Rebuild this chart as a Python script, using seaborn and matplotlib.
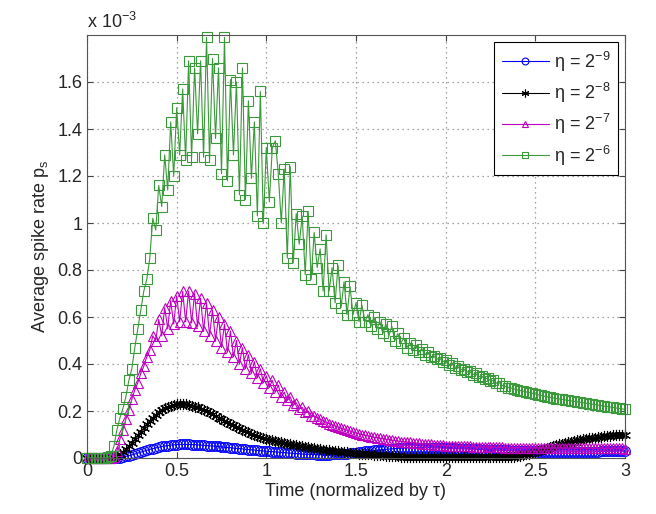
import numpy as np
import matplotlib
matplotlib.use("Agg")
import matplotlib.pyplot as plt
import seaborn as sns

sns.set_theme(style="ticks")
plt.rcParams['font.family'] = ['Liberation Sans', 'DejaVu Sans']
plt.rcParams['mathtext.fontset'] = 'custom'
plt.rcParams['mathtext.rm'] = 'Liberation Sans'
plt.rcParams['mathtext.it'] = 'Liberation Sans:italic'

# time axis, normalized by tau (181 samples from 0 to 3)
time = np.linspace(0, 3, 181)

# average spike rate, in units of 1e-3
rate_eta9 = [
    0, 0, 0, 0, 0, 0, 0, 0, 0, 0,
    0.001, 0.002, 0.004, 0.007, 0.010, 0.013, 0.017, 0.021, 0.025, 0.029,
    0.033, 0.037, 0.040, 0.043, 0.046, 0.049, 0.051, 0.053, 0.055, 0.056,
    0.057, 0.058, 0.058, 0.058, 0.058, 0.057, 0.057, 0.056, 0.055, 0.054,
    0.053, 0.052, 0.051, 0.050, 0.049, 0.047, 0.046, 0.045, 0.044, 0.042,
    0.041, 0.040, 0.039, 0.037, 0.036, 0.035, 0.034, 0.032, 0.031, 0.030,
    0.029, 0.028, 0.027, 0.026, 0.025, 0.024, 0.023, 0.022, 0.021, 0.020,
    0.019, 0.018, 0.017, 0.016, 0.016, 0.015, 0.015, 0.014, 0.014, 0.014,
    0.014, 0.014, 0.015, 0.015, 0.016, 0.017, 0.018, 0.019, 0.020, 0.022,
    0.023, 0.025, 0.026, 0.028, 0.029, 0.031, 0.032, 0.034, 0.035, 0.036,
    0.037, 0.038, 0.039, 0.040, 0.041, 0.042, 0.042, 0.043, 0.043, 0.044,
    0.044, 0.044, 0.044, 0.044, 0.044, 0.044, 0.043, 0.043, 0.043, 0.043,
    0.042, 0.042, 0.041, 0.041, 0.040, 0.040, 0.039, 0.039, 0.038, 0.038,
    0.037, 0.037, 0.036, 0.036, 0.035, 0.035, 0.034, 0.034, 0.033, 0.033,
    0.032, 0.032, 0.031, 0.031, 0.030, 0.030, 0.029, 0.029, 0.028, 0.028,
    0.028, 0.027, 0.027, 0.027, 0.027, 0.026, 0.026, 0.026, 0.026, 0.026,
    0.026, 0.026, 0.026, 0.026, 0.026, 0.026, 0.026, 0.026, 0.026, 0.026,
    0.027, 0.027, 0.028, 0.028, 0.028, 0.029, 0.029, 0.029, 0.030, 0.030,
    0.030,
]

rate_eta8 = [
    0, 0, 0, 0, 0, 0, 0, 0, 0, 0.002,
    0.008, 0.016, 0.026, 0.037, 0.050, 0.064, 0.080, 0.096, 0.112, 0.128,
    0.143, 0.158, 0.171, 0.184, 0.195, 0.204, 0.212, 0.218, 0.223, 0.226,
    0.228, 0.229, 0.229, 0.228, 0.226, 0.223, 0.219, 0.215, 0.210, 0.204,
    0.198, 0.192, 0.186, 0.179, 0.172, 0.166, 0.159, 0.152, 0.146, 0.139,
    0.133, 0.127, 0.121, 0.115, 0.109, 0.104, 0.099, 0.094, 0.090, 0.086,
    0.082, 0.078, 0.075, 0.072, 0.069, 0.066, 0.063, 0.061, 0.058, 0.056,
    0.054, 0.052, 0.050, 0.048, 0.046, 0.044, 0.042, 0.040, 0.038, 0.036,
    0.035, 0.033, 0.031, 0.030, 0.028, 0.027, 0.025, 0.024, 0.023, 0.021,
    0.020, 0.019, 0.018, 0.017, 0.016, 0.015, 0.014, 0.013, 0.012, 0.011,
    0.010, 0.009, 0.008, 0.008, 0.007, 0.006, 0.006, 0.005, 0.005, 0.004,
    0.004, 0.004, 0.004, 0.004, 0.004, 0.004, 0.004, 0.003, 0.003, 0.003,
    0.003, 0.003, 0.003, 0.003, 0.003, 0.003, 0.003, 0.003, 0.003, 0.003,
    0.003, 0.003, 0.003, 0.003, 0.003, 0.003, 0.003, 0.004, 0.004, 0.004,
    0.004, 0.004, 0.005, 0.006, 0.008, 0.010, 0.012, 0.015, 0.018, 0.022,
    0.026, 0.030, 0.034, 0.038, 0.043, 0.047, 0.051, 0.055, 0.058, 0.061,
    0.064, 0.067, 0.070, 0.072, 0.075, 0.077, 0.079, 0.081, 0.083, 0.085,
    0.087, 0.089, 0.090, 0.092, 0.093, 0.095, 0.096, 0.097, 0.098, 0.099,
    0.100,
]

rate_eta7 = [
    0, 0, 0, 0, 0, 0, 0, 0, 0, 0.005,
    0.03, 0.08, 0.12, 0.165, 0.205, 0.25, 0.29, 0.32, 0.36, 0.39,
    0.43, 0.46, 0.52, 0.50, 0.59, 0.52, 0.64, 0.55, 0.67, 0.57,
    0.69, 0.58, 0.71, 0.58, 0.71, 0.575, 0.70, 0.56, 0.68, 0.54,
    0.66, 0.52, 0.63, 0.50, 0.60, 0.47, 0.57, 0.45, 0.54, 0.43,
    0.50, 0.40, 0.47, 0.38, 0.44, 0.36, 0.41, 0.34, 0.38, 0.32,
    0.35, 0.30, 0.33, 0.28, 0.31, 0.26, 0.28, 0.245, 0.26, 0.225,
    0.235, 0.21, 0.215, 0.195, 0.20, 0.18, 0.18, 0.17, 0.165, 0.157,
    0.152, 0.146, 0.141, 0.136, 0.131, 0.126, 0.122, 0.118, 0.114, 0.110,
    0.106, 0.103, 0.100, 0.097, 0.094, 0.091, 0.088, 0.086, 0.084, 0.082,
    0.080, 0.078, 0.076, 0.074, 0.072, 0.070, 0.069, 0.067, 0.066, 0.065,
    0.063, 0.062, 0.061, 0.060, 0.059, 0.058, 0.057, 0.056, 0.055, 0.054,
    0.053, 0.052, 0.052, 0.051, 0.051, 0.050, 0.050, 0.049, 0.049, 0.048,
    0.048, 0.047, 0.047, 0.047, 0.046, 0.046, 0.046, 0.045, 0.045, 0.045,
    0.044, 0.044, 0.044, 0.044, 0.044, 0.044, 0.044, 0.044, 0.044, 0.044,
    0.044, 0.043, 0.043, 0.043, 0.043, 0.043, 0.043, 0.043, 0.043, 0.043,
    0.042, 0.042, 0.042, 0.042, 0.042, 0.042, 0.042, 0.042, 0.042, 0.042,
    0.041, 0.041, 0.041, 0.041, 0.041, 0.041, 0.041, 0.041, 0.041, 0.041,
    0.040,
]

rate_eta6 = [
    0, 0, 0, 0, 0, 0, 0, 0.003, 0.01, 0.05,
    0.12, 0.17, 0.21, 0.26, 0.33, 0.38, 0.47, 0.55, 0.63, 0.71,
    0.76, 0.85, 1.02, 0.97, 1.16, 1.07, 1.29, 1.14, 1.43, 1.20,
    1.49, 1.29, 1.57, 1.27, 1.69, 1.28, 1.66, 1.38, 1.69, 1.28,
    1.79, 1.27, 1.70, 1.36, 1.66, 1.21, 1.79, 1.18, 1.61, 1.29,
    1.60, 1.12, 1.66, 1.10, 1.52, 1.19, 1.43, 1.03, 1.56, 1.00,
    1.32, 1.09, 1.32, 1.35, 1.21, 1.00, 1.23, 0.85, 1.24, 0.83,
    1.04, 0.91, 1.03, 0.78, 1.05, 0.76, 0.96, 0.81, 0.89, 0.71,
    0.95, 0.71, 0.81, 0.66, 0.82, 0.64, 0.75, 0.61, 0.73, 0.61,
    0.66, 0.58, 0.65, 0.58, 0.61, 0.56, 0.60, 0.55, 0.58, 0.53,
    0.57, 0.52, 0.56, 0.50, 0.53, 0.49, 0.51, 0.47, 0.49, 0.46,
    0.48, 0.45, 0.465, 0.44, 0.45, 0.43, 0.435, 0.42, 0.425, 0.41,
    0.415, 0.395, 0.405, 0.385, 0.39, 0.375, 0.38, 0.365, 0.37, 0.355,
    0.36, 0.345, 0.35, 0.335, 0.34, 0.328, 0.33, 0.318, 0.32, 0.308,
    0.305, 0.30, 0.297, 0.293, 0.29, 0.287, 0.284, 0.281, 0.278, 0.275,
    0.272, 0.269, 0.266, 0.263, 0.260, 0.258, 0.256, 0.253, 0.251, 0.249,
    0.247, 0.245, 0.243, 0.241, 0.239, 0.237, 0.235, 0.233, 0.231, 0.229,
    0.227, 0.225, 0.223, 0.221, 0.219, 0.217, 0.215, 0.213, 0.211, 0.209,
    0.207,
]

labels = [r'η = 2$^{-9}$', r'η = 2$^{-8}$', r'η = 2$^{-7}$', r'η = 2$^{-6}$']
colors = ['#0000ff', '#000000', '#c000c0', '#3a993a']
markers = ['o', (6, 2, 0), '^', 's']
msizes = [7, 8, 6.5, 6.5]
series = [rate_eta9, rate_eta8, rate_eta7, rate_eta6]

x_ticks = [0, 0.5, 1, 1.5, 2, 2.5, 3]
x_ticklabels = ['0', '0.5', '1', '1.5', '2', '2.5', '3']
y_ticks = [0, 0.2, 0.4, 0.6, 0.8, 1.0, 1.2, 1.4, 1.6]
y_ticklabels = ['0', '0.2', '0.4', '0.6', '0.8', '1', '1.2', '1.4', '1.6']

fig = plt.figure(figsize=(6.56, 5.14), dpi=100)
ax = fig.add_axes([87 / 656, 1 - 458 / 514, (625 - 87) / 656, (458 - 35) / 514])

for vals, lab, col, mk, ms in zip(series, labels, colors, markers, msizes):
    sns.lineplot(x=time, y=vals, ax=ax, color=col, marker=mk, markersize=ms,
                 markerfacecolor='none', markeredgecolor=col, markeredgewidth=0.8,
                 linewidth=0.8, label=lab, estimator=None, sort=False, clip_on=False)

ax.set_xlim(0, 3)
ax.set_ylim(0, 1.8)
ax.set_xticks(x_ticks)
ax.set_xticklabels(x_ticklabels)
ax.set_yticks(y_ticks)
ax.set_yticklabels(y_ticklabels)
ax.tick_params(direction='in', top=True, right=True, length=4, labelsize=13,
               color='#444444', width=0.8)
ax.grid(True, linestyle=(0, (1, 3)), color='#888888', linewidth=0.9)
for sp in ax.spines.values():
    sp.set_color('#555555')
    sp.set_linewidth(0.8)

ax.set_xlabel('Time (normalized by τ)', fontsize=13, labelpad=2)
ax.set_ylabel(r'Average spike rate p$_{\mathrm{s}}$', fontsize=13, labelpad=4)
ax.text(0, 1.008, r'x 10$^{-3}$', transform=ax.transAxes, ha='left', va='bottom',
        fontsize=13)

leg = ax.legend(loc='upper right', fontsize=13, handlelength=2.6, labelspacing=0.4,
                borderaxespad=0.4, fancybox=False, framealpha=1, edgecolor='black',
                handletextpad=0.3, borderpad=0.4, markerscale=0.7)
leg.get_frame().set_linewidth(0.8)

fig.savefig('out.png', dpi=100)
